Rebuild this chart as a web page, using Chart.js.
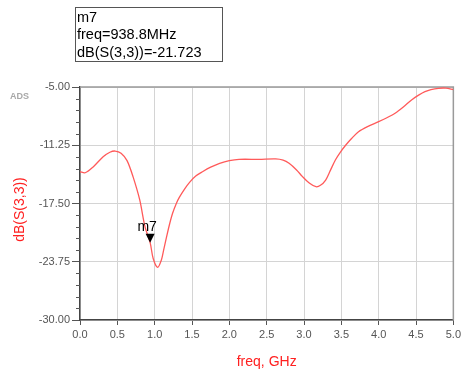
<!DOCTYPE html>
<html><head><meta charset="utf-8">
<script src="https://cdn.jsdelivr.net/npm/chart.js@4/dist/chart.umd.min.js"></script>
<style>html,body{margin:0;padding:0;background:#fff}#wrap{width:464px;height:375px;position:relative}</style>
</head><body><div id="wrap"><canvas id="c" width="464" height="375"></canvas></div>
<script>
const freqs = [0.00,0.07,0.18,0.31,0.40,0.47,0.55,0.63,0.71,0.80,0.87,0.94,0.98,1.04,1.09,1.12,1.16,1.20,1.24,1.29,1.33,1.40,1.47,1.55,1.64,1.75,1.87,2.00,2.13,2.40,2.62,2.72,2.80,2.90,2.98,3.07,3.16,3.22,3.29,3.35,3.42,3.49,3.56,3.64,3.73,3.85,4.00,4.11,4.22,4.33,4.44,4.54,4.62,4.70,4.80,4.90,5.00];
const sdb   = [-14.09,-14.20,-13.55,-12.48,-12.00,-11.87,-12.10,-12.90,-14.62,-17.12,-19.99,-21.72,-23.40,-24.35,-23.56,-22.50,-21.06,-19.70,-18.55,-17.50,-16.85,-15.95,-15.20,-14.55,-14.09,-13.60,-13.19,-12.90,-12.76,-12.76,-12.72,-12.85,-13.19,-13.90,-14.62,-15.30,-15.70,-15.55,-14.98,-14.00,-12.83,-11.95,-11.22,-10.50,-9.80,-9.25,-8.72,-8.30,-7.82,-7.15,-6.39,-5.85,-5.50,-5.28,-5.14,-5.12,-5.28];
const yTicks = [-30.00,-23.75,-17.50,-11.25,-5.00];
const xTicks = [0.0,0.5,1.0,1.5,2.0,2.5,3.0,3.5,4.0,4.5,5.0];
const markerName = "m7";
const markerFreqGHz = 0.9388;
const markerValue = -21.723;
const markerLines = ["m7","freq=938.8MHz","dB(S(3,3))=-21.723"];
const yTitle = "dB(S(3,3))";
const xTitle = "freq, GHz";

const FONT = "'Liberation Sans', Arial, sans-serif";
const overlay = {
  id:'overlay',
  beforeDatasetsDraw(chart){
    const ctx = chart.ctx, a = chart.chartArea;
    ctx.save();
    ctx.strokeStyle = '#9a9a9a'; ctx.lineWidth = 1.5;
    ctx.beginPath(); ctx.moveTo(a.left, a.top); ctx.lineTo(a.right, a.top); ctx.lineTo(a.right, a.bottom); ctx.stroke();
    ctx.restore();
  },
  afterDraw(chart){
    const ctx = chart.ctx, xs = chart.scales.x, ys = chart.scales.y, a = chart.chartArea;
    ctx.save();
    ctx.strokeStyle = '#555'; ctx.lineWidth = 1;
    for (let i=0;i<yTicks.length-1;i++){
      const step = (yTicks[i+1]-yTicks[i])/5;
      for (let k=1;k<5;k++){
        const y = Math.round(ys.getPixelForValue(yTicks[i]+k*step))+0.5;
        ctx.beginPath(); ctx.moveTo(a.left-4,y); ctx.lineTo(a.left,y); ctx.stroke();
      }
    }
    ctx.fillStyle = '#ff2020';
    ctx.font = '14px ' + FONT;
    ctx.textAlign = 'center'; ctx.textBaseline = 'middle';
    ctx.fillText(xTitle, (a.left+a.right)/2, 362);
    ctx.save(); ctx.translate(20, (a.top+a.bottom)/2+6); ctx.rotate(-Math.PI/2);
    ctx.fillText(yTitle, 0, 0); ctx.restore();
    ctx.fillStyle = '#a8a8a8'; ctx.font = 'bold 9px ' + FONT;
    ctx.textAlign = 'left'; ctx.fillText('ADS', 10, 97);
    const mx = xs.getPixelForValue(markerFreqGHz), my = ys.getPixelForValue(markerValue);
    ctx.fillStyle = '#000';
    ctx.beginPath(); ctx.moveTo(mx, my); ctx.lineTo(mx-4.5, my-9); ctx.lineTo(mx+4.5, my-9); ctx.closePath(); ctx.fill();
    ctx.font = '14px ' + FONT; ctx.textAlign='center'; ctx.textBaseline='alphabetic';
    ctx.fillText(markerName, mx-3, my-12);
    ctx.strokeStyle = '#555'; ctx.lineWidth = 1;
    ctx.fillStyle = '#fff';
    ctx.fillRect(75.5,7.5,147,54); ctx.strokeRect(75.5,7.5,147,54);
    ctx.fillStyle = '#000'; ctx.textAlign='left'; ctx.font = '14.5px ' + FONT;
    ctx.fillText(markerLines[0], 77, 22);
    ctx.fillText(markerLines[1], 77, 39);
    ctx.fillText(markerLines[2], 77, 57);
    ctx.restore();
  }
};

new Chart(document.getElementById('c'), {
  type:'line',
  data:{ datasets:[{ data: freqs.map((f,i)=>({x:f,y:sdb[i]})), borderColor:'#ff5a5a', borderWidth:1.3, pointRadius:0, tension:0.3, fill:false }]},
  options:{
    responsive:false, animation:false, devicePixelRatio:1,
    layout:{ padding:{ left:0, right:9, top:87, bottom:0 } },
    plugins:{ legend:{display:false}, tooltip:{enabled:false} },
    scales:{
      x:{ type:'linear', min:0, max:5,
        afterBuildTicks(s){ s.ticks = xTicks.map(v=>({value:v})); },
        afterFit(s){ s.height = 55; },
        ticks:{ callback:v=>v.toFixed(1), color:'#555', font:{family:FONT,size:11}, padding:3, maxRotation:0 },
        grid:{ color:'#d4d4d4', lineWidth:1, tickLength:5, tickColor:'#555', drawTicks:true },
        border:{ color:'#444', width:1.5 } },
      y:{ type:'linear', min:-30, max:-5,
        afterBuildTicks(s){ s.ticks = yTicks.map(v=>({value:v})); },
        afterFit(s){ s.width = 80; },
        ticks:{ callback:v=>v.toFixed(2), color:'#555', font:{family:FONT,size:11}, padding:2 },
        grid:{ color:'#d4d4d4', lineWidth:1, tickLength:8, tickColor:'#555' },
        border:{ color:'#444', width:1.5 } }
    }
  },
  plugins:[overlay]
});
</script></body></html>
